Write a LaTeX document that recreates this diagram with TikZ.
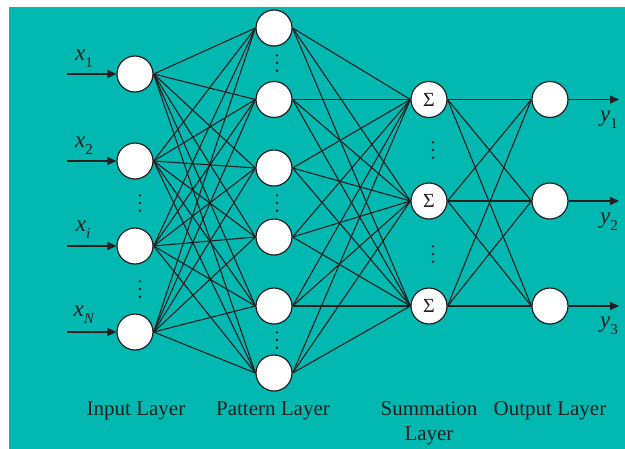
\documentclass[tikz,border=0pt]{standalone}
\usepackage{fontspec}
\setmainfont{Liberation Serif}
\usetikzlibrary{arrows.meta}
\definecolor{bgteal}{RGB}{2,185,177}
\definecolor{ink}{RGB}{35,31,32}
\newcommand\lsub[1]{\raisebox{-0.3em}{\fontsize{15}{17}\selectfont #1}}
\begin{document}
\begin{tikzpicture}[x=1pt,y=-1pt,
  neuron/.style={circle,draw=ink,fill=white,line width=1.2pt,minimum size=36pt,inner sep=0pt,font=\fontsize{20}{22}\selectfont},
  conn/.style={draw=ink,line width=1.1pt},
  io/.style={draw=ink,line width=1.2pt,-{Triangle[length=9pt,width=8pt]}},
  lbl/.style={text=ink,font=\fontsize{21}{25}\selectfont,inner sep=0pt},
  vlbl/.style={text=ink,font=\fontsize{23}{25}\selectfont,inner sep=0pt},
  dotfill/.style={fill=ink}]
\useasboundingbox (0,0) rectangle (625,448);
\fill[bgteal] (9,7) rectangle (626,449);
% input layer
\node[neuron] (i1) at (135,74) {};
\node[neuron] (i2) at (135,161) {};
\node[neuron] (i3) at (135,246) {};
\node[neuron] (i4) at (135,332) {};
% pattern layer
\node[neuron] (p1) at (274,28) {};
\node[neuron] (p2) at (274,99.5) {};
\node[neuron] (p3) at (274,168) {};
\node[neuron] (p4) at (274,237) {};
\node[neuron] (p5) at (274,306) {};
\node[neuron] (p6) at (274,373) {};
% summation layer
\node[neuron,text=ink] (s1) at (429,99.5) {Σ};
\node[neuron,text=ink] (s2) at (429,201) {Σ};
\node[neuron,text=ink] (s3) at (429,306) {Σ};
% output layer
\node[neuron] (o1) at (550,99.5) {};
\node[neuron] (o2) at (550,201) {};
\node[neuron] (o3) at (550,306) {};
% connections
\foreach \a in {i1,i2,i3,i4}
  \foreach \b in {p1,p2,p3,p4,p5,p6}
    \draw[conn] (\a.east) -- (\b.west);
\foreach \a in {p1,p2,p3,p4,p5,p6}
  \foreach \b in {s1,s2,s3}
    \draw[conn] (\a.east) -- (\b.west);
\foreach \a in {s1,s2,s3}
  \foreach \b in {o1,o2,o3}
    \draw[conn] (\a.east) -- (\b.west);
% inputs
\coordinate (in1) at (67,74);
\coordinate (in2) at (67,161);
\coordinate (in3) at (67,246);
\coordinate (in4) at (67,332);
\draw[io] (in1) -- (i1.west);
\draw[io] (in2) -- (i2.west);
\draw[io] (in3) -- (i3.west);
\draw[io] (in4) -- (i4.west);
\node[vlbl] (lx1) at (84,59) {\textit{x}\lsub{1}};
\node[vlbl] (lx2) at (84,146) {\textit{x}\lsub{2}};
\node[vlbl] (lxi) at (83,230) {\textit{x}\lsub{\textit{i}}};
\node[vlbl] (lxN) at (84,315) {\textit{x}\lsub{\textit{N}}};
% outputs
\coordinate (out1) at (619,99.5);
\coordinate (out2) at (619,201);
\coordinate (out3) at (619,306);
\draw[io] (o1.east) -- (out1);
\draw[io] (o2.east) -- (out2);
\draw[io] (o3.east) -- (out3);
\node[vlbl] (ly1) at (609,120) {\textit{y}\lsub{1}};
\node[vlbl] (ly2) at (609,222) {\textit{y}\lsub{2}};
\node[vlbl] (ly3) at (609,326) {\textit{y}\lsub{3}};
% vertical dots
\foreach \x/\y in {140/203, 140/289, 277/63, 277/203, 277/340, 433/150, 433/254}
  \foreach \k in {-7.7,0,7.7}
    \fill[dotfill] (\x,\y+\k) circle (1.3pt);
% layer labels
\node[lbl] (t1) at (136,411) {Input Layer};
\node[lbl] (t2) at (273,411) {Pattern Layer};
\node[lbl,align=center,font=\fontsize{21}{25}\selectfont] (t3) at (429,423) {Summation\\Layer};
\node[lbl] (t4) at (550,411) {Output Layer};
\end{tikzpicture}
\end{document}
